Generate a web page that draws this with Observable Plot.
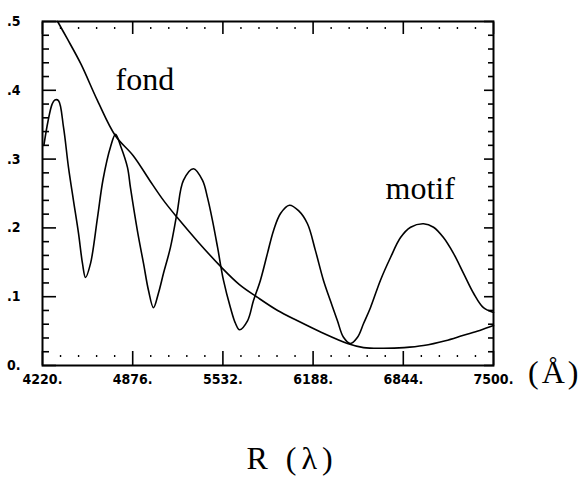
<!DOCTYPE html>
<html>
<head>
<meta charset="utf-8">
<script src="https://cdn.jsdelivr.net/npm/d3@7"></script>
<script src="https://cdn.jsdelivr.net/npm/@observablehq/plot@0.6"></script>
<style>
  html, body { margin: 0; padding: 0; background: #ffffff; }
  #chart { width: 581px; height: 480px; }
</style>
</head>
<body>
<div id="chart"></div>
<script>
// ---- data ----
const fondX = [4330, 4400, 4500, 4620, 4750, 4880, 5000, 5100, 5200, 5350, 5515, 5650, 5784, 5930, 6075, 6250, 6438, 6555, 6700, 6850, 6991, 7150, 7282, 7400, 7500];
const fondY = [0.500, 0.475, 0.438, 0.385, 0.334, 0.305, 0.269, 0.240, 0.215, 0.180, 0.144, 0.118, 0.099, 0.080, 0.065, 0.048, 0.032, 0.026, 0.025, 0.026, 0.029, 0.036, 0.044, 0.051, 0.058];

const motifX = [4230, 4260, 4290, 4310, 4336, 4373, 4409, 4445, 4482, 4511, 4533, 4569, 4620, 4660, 4715, 4751, 4790, 4838, 4860, 4910, 4955, 4991, 5027, 5063, 5100, 5151, 5198, 5245, 5318, 5384, 5420, 5456, 5493, 5536, 5587, 5624, 5653, 5711, 5754, 5805, 5856, 5900, 5951, 6016, 6082, 6147, 6205, 6263, 6314, 6365, 6409, 6460, 6511, 6555, 6605, 6678, 6751, 6824, 6897, 6991, 7064, 7136, 7209, 7282, 7355, 7427, 7500];
const motifY = [0.320, 0.355, 0.380, 0.386, 0.385, 0.346, 0.288, 0.240, 0.192, 0.148, 0.128, 0.148, 0.215, 0.270, 0.318, 0.336, 0.318, 0.288, 0.258, 0.196, 0.148, 0.109, 0.084, 0.105, 0.134, 0.172, 0.221, 0.269, 0.286, 0.269, 0.244, 0.211, 0.172, 0.124, 0.084, 0.061, 0.052, 0.065, 0.094, 0.124, 0.163, 0.196, 0.221, 0.233, 0.225, 0.206, 0.167, 0.124, 0.094, 0.065, 0.041, 0.032, 0.041, 0.061, 0.084, 0.124, 0.157, 0.186, 0.201, 0.206, 0.201, 0.186, 0.163, 0.134, 0.105, 0.084, 0.077];

const xTicks = [4220, 4876, 5532, 6188, 6844, 7500];
const xTickLabels = ["4220.", "4876.", "5532.", "6188.", "6844.", "7500."];
const xMinorStep = 131.2;
const yTicks = [0, 0.1, 0.2, 0.3, 0.4, 0.5];
const yTickLabels = ["0.", ".1", ".2", ".3", ".4", ".5"];
const yMinorStep = 0.02;

const labelNames = ["fond", "motif"];
const labelX = [4751, 6715];
const labelY = [0.416, 0.257];

const unitLabel = "(Å)";
const axisTitle = "R (λ)";

// ---- derived tables ----
const fond = fondX.map((x, i) => ({x, y: fondY[i]}));
const motif = motifX.map((x, i) => ({x, y: motifY[i]}));
const curveLabels = labelNames.map((t, i) => ({text: t, x: labelX[i], y: labelY[i]}));
const xMinor = d3.range(0, 26).map(i => xTicks[0] + i * xMinorStep).filter(v => !xTicks.some(t => Math.abs(t - v) < 1));
const yMinor = d3.range(0, 26).map(i => +(i * yMinorStep).toFixed(3)).filter(v => !yTicks.some(t => Math.abs(t - v) < 1e-6));

const serif = "'Liberation Serif', 'DejaVu Serif', serif";
const tickFont = "'Liberation Sans Narrow', 'DejaVu Sans Condensed', sans-serif";

const chart = Plot.plot({
  width: 581,
  height: 480,
  marginLeft: 42,
  marginRight: 88,
  marginTop: 21,
  marginBottom: 115,
  style: {background: "#ffffff", color: "#000"},
  x: {domain: [4220, 7500]},
  y: {domain: [0, 0.5]},
  marks: [
    // tick labels
    Plot.axisY(yTicks, {anchor: "left", tickSize: 0, tickPadding: 22, label: null,
      tickFormat: d => yTickLabels[yTicks.indexOf(d)], fontSize: 14, fontWeight: "bold", fontFamily: tickFont}),
    Plot.axisX(xTicks, {anchor: "bottom", tickSize: 0, tickPadding: 9, label: null,
      tickFormat: d => xTickLabels[xTicks.indexOf(d)], fontSize: 14, fontWeight: "bold", fontFamily: tickFont}),
    // inward ticks, left and right
    Plot.axisY(yTicks, {anchor: "left", tickSize: 14, dx: 14, fill: "none", label: null, strokeWidth: 1.6}),
    Plot.axisY(yMinor, {anchor: "left", tickSize: 7, dx: 7, fill: "none", label: null, strokeWidth: 1.6}),
    Plot.axisY(yTicks, {anchor: "right", tickSize: 10, dx: -10, fill: "none", label: null, strokeWidth: 1.6}),
    Plot.axisY(yMinor, {anchor: "right", tickSize: 6, dx: -6, fill: "none", label: null, strokeWidth: 1.6}),
    // inward ticks, top and bottom
    Plot.axisX(xTicks, {anchor: "bottom", tickSize: 14, dy: -14, fill: "none", label: null, strokeWidth: 1.6}),
    Plot.axisX(xMinor, {anchor: "bottom", tickSize: 2, dy: -10, fill: "none", label: null, strokeWidth: 1.4}),
    Plot.axisX(xTicks, {anchor: "top", tickSize: 12, dy: 12, fill: "none", label: null, strokeWidth: 1.6}),
    Plot.axisX(xMinor, {anchor: "top", tickSize: 2, dy: 7, fill: "none", label: null, strokeWidth: 1.4}),
    Plot.frame({stroke: "#000", strokeWidth: 2}),
    // curves
    Plot.line(fond, {x: "x", y: "y", curve: "catmull-rom", stroke: "#000", strokeWidth: 1.6}),
    Plot.line(motif, {x: "x", y: "y", curve: "catmull-rom", stroke: "#000", strokeWidth: 1.6}),
    // labels
    Plot.text(curveLabels, {x: "x", y: "y", text: "text", textAnchor: "start", fontSize: 32, fontFamily: serif, fill: "#000"}),
    Plot.text([unitLabel], {text: d => d, frameAnchor: "bottom-right", dx: 88, dy: 17, fontSize: 32, fontFamily: serif, fill: "#000"}),
    Plot.text([axisTitle], {text: d => d, frameAnchor: "bottom", dx: 24, dy: 103, fontSize: 32, fontFamily: serif, fill: "#000"})
  ]
});
const sel = d3.select(chart).selectAll("text");
sel.filter(function () { return this.textContent === axisTitle; }).style("letter-spacing", "5px");
sel.filter(function () { return this.textContent === unitLabel; }).style("letter-spacing", "3px");
document.getElementById("chart").appendChild(chart);
</script>
</body>
</html>
